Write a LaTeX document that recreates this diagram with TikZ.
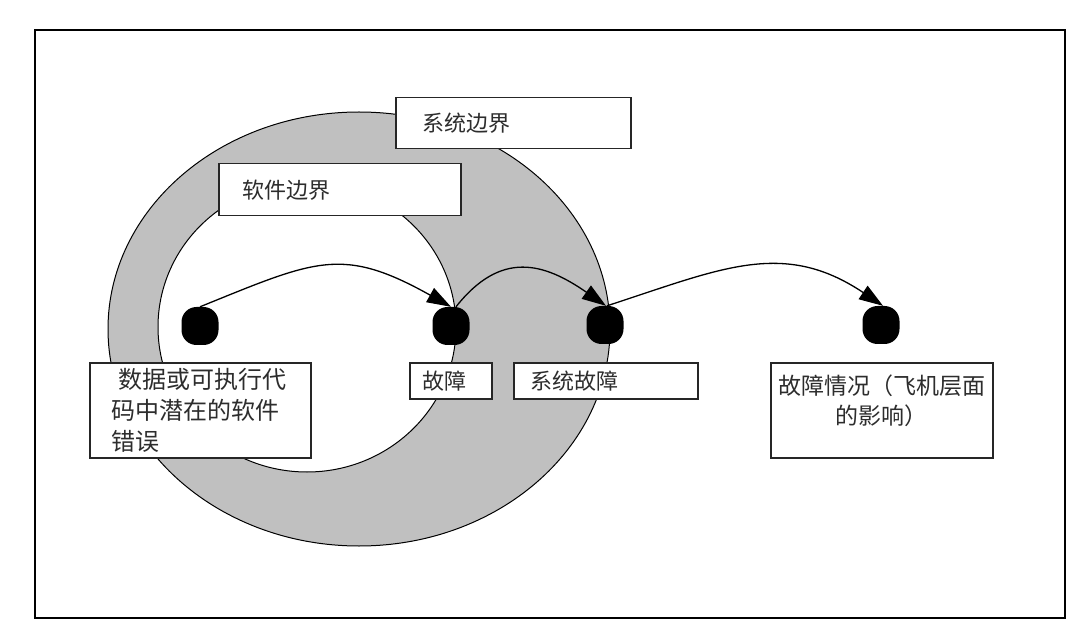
\documentclass[tikz,border=0pt]{standalone}
\usepackage{fontspec}
\newfontfamily\cjk{Noto Sans CJK SC}
\usetikzlibrary{arrows.meta}
\definecolor{ringgray}{RGB}{192,192,192}
\definecolor{txtgray}{RGB}{45,45,45}
\begin{document}
\begin{tikzpicture}[x=1pt,y=-1pt,
  box/.style={draw=black!85, line width=1.5pt, fill=white, inner ysep=0pt,
    font=\cjk\fontsize{22}{30}\selectfont, text=txtgray, anchor=north west},
  txt/.style={inner sep=0pt, text=txtgray, font=\cjk\fontsize{23}{30}\selectfont},
  dotnode/.style={fill=black, rounded corners=15pt, minimum width=37pt,
    minimum height=38pt, inner sep=0pt},
  arr/.style={line width=1.3pt, -{Triangle[length=24pt,width=16pt]}},
  boundary/.style={draw=black, line width=1pt}
]
\useasboundingbox (0,0) rectangle (1080,631);
% outer frame
\draw[line width=1.8pt] (35,30) rectangle (1065,618);
% boundaries
\draw[boundary, fill=ringgray] (359,329) ellipse [x radius=251pt, y radius=217pt];
\draw[boundary, fill=white] (307,327) ellipse [x radius=149pt, y radius=145pt];
% dots
\node[dotnode] (d1) at (200,326) {};
\node[dotnode] (d2) at (451,326) {};
\node[dotnode] (d3) at (605,325) {};
\node[dotnode] (d4) at (881,325) {};
% arrows
\draw[arr] (d1.north) .. controls +(116,-47) and +(-109,-61) .. (d2.north);
\draw[arr] ([xshift=5pt]d2.north) .. controls +(45,-57) and +(-62,-43) .. ([xshift=1pt]d3.north);
\draw[arr] ([xshift=2pt]d3.north) .. controls +(114,-37) and +(-100,-67) .. ([xshift=2pt]d4.north);
% labels
\node[box, minimum width=235pt, minimum height=51pt, text width=181pt,
  inner xsep=27pt, align=left] (sysb) at (395,97) {系统边界};
\node[box, minimum width=242pt, minimum height=52pt, text width=194pt,
  inner xsep=24pt, align=left] (swb) at (218,163) {软件边界};
\node[box, minimum width=221pt, minimum height=95pt, text width=177pt,
  inner xsep=22pt, align=left, font=\cjk\fontsize{24}{31}\selectfont] (src) at (89,362)
  {\hspace*{7pt}数据或可执行代\\码中潜在的软件\\错误};
\node[box, minimum width=82pt, minimum height=36pt, text width=56pt,
  inner xsep=13pt, align=left] (flt) at (409,362) {故障};
\node[box, minimum width=184pt, minimum height=36pt, text width=150pt,
  inner xsep=17pt, align=left] (sysf) at (513,362) {系统故障};
\node[box, minimum width=222pt, minimum height=95pt] (cond) at (770,362) {};
\node[txt, align=center] (condt) at ([yshift=9pt]cond.center)
  {故障情况（飞机层面\\的影响）};
\end{tikzpicture}
\end{document}
